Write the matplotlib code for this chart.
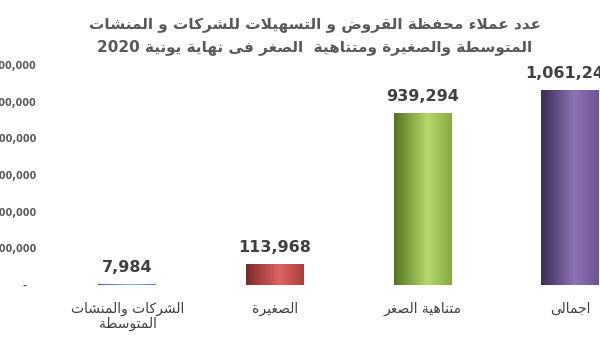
import re
import numpy as np
import matplotlib
matplotlib.use("Agg")
import matplotlib.pyplot as plt
from matplotlib.colors import LinearSegmentedColormap, to_rgb

# ---- data ----
categories = ["الشركات والمنشات\nالمتوسطة", "الصغيرة", "متناهية الصغر", "اجمالى"]
values = [7984, 113968, 939294, 1061246]
title_lines = ["عدد عملاء محفظة القروض و التسهيلات للشركات و المنشات",
               "المتوسطة والصغيرة ومتناهية  الصغر فى نهاية يونية 2020"]
y_ticks = [0, 200000, 400000, 600000, 800000, 1000000, 1200000]

# cylinder-like shading per bar: (dark edge, highlight, right edge)
bar_shades = [
    ("#3f5f86", "#8fb0da", "#5a7fae"),
    ("#7a2a28", "#e06462", "#a9403d"),
    ("#55741f", "#b7da6c", "#86a945"),
    ("#3b2c55", "#8e73b6", "#6a5590"),
]

# ---- minimal Arabic shaping (presentation forms + visual order) ----
FORMS = {
    "\u0621": ("\uFE80", None, None, None),
    "\u0627": ("\uFE8D", "\uFE8E", None, None),
    "\u0629": ("\uFE93", "\uFE94", None, None),
    "\u062A": ("\uFE95", "\uFE96", "\uFE97", "\uFE98"),
    "\u062C": ("\uFE9D", "\uFE9E", "\uFE9F", "\uFEA0"),
    "\u062D": ("\uFEA1", "\uFEA2", "\uFEA3", "\uFEA4"),
    "\u062F": ("\uFEA9", "\uFEAA", None, None),
    "\u0631": ("\uFEAD", "\uFEAE", None, None),
    "\u0633": ("\uFEB1", "\uFEB2", "\uFEB3", "\uFEB4"),
    "\u0634": ("\uFEB5", "\uFEB6", "\uFEB7", "\uFEB8"),
    "\u0635": ("\uFEB9", "\uFEBA", "\uFEBB", "\uFEBC"),
    "\u0636": ("\uFEBD", "\uFEBE", "\uFEBF", "\uFEC0"),
    "\u0637": ("\uFEC1", "\uFEC2", "\uFEC3", "\uFEC4"),
    "\u0638": ("\uFEC5", "\uFEC6", "\uFEC7", "\uFEC8"),
    "\u0639": ("\uFEC9", "\uFECA", "\uFECB", "\uFECC"),
    "\u063A": ("\uFECD", "\uFECE", "\uFECF", "\uFED0"),
    "\u0641": ("\uFED1", "\uFED2", "\uFED3", "\uFED4"),
    "\u0642": ("\uFED5", "\uFED6", "\uFED7", "\uFED8"),
    "\u0643": ("\uFED9", "\uFEDA", "\uFEDB", "\uFEDC"),
    "\u0644": ("\uFEDD", "\uFEDE", "\uFEDF", "\uFEE0"),
    "\u0645": ("\uFEE1", "\uFEE2", "\uFEE3", "\uFEE4"),
    "\u0646": ("\uFEE5", "\uFEE6", "\uFEE7", "\uFEE8"),
    "\u0647": ("\uFEE9", "\uFEEA", "\uFEEB", "\uFEEC"),
    "\u0648": ("\uFEED", "\uFEEE", None, None),
    "\u0649": ("\uFEEF", "\uFEF0", None, None),
    "\u064A": ("\uFEF1", "\uFEF2", "\uFEF3", "\uFEF4"),
}


def _joins(c):
    return c in FORMS and c != "\u0621"


def _dual(c):
    return c in FORMS and FORMS[c][2] is not None


def shape(text):
    out = []
    i = 0
    n = len(text)
    while i < n:
        c = text[i]
        prev = text[i - 1] if i > 0 else None
        join_prev = prev is not None and _dual(prev) and _joins(c)
        if c == "\u0644" and i + 1 < n and text[i + 1] == "\u0627":
            out.append("\uFEFC" if join_prev else "\uFEFB")
            i += 2
            continue
        if c not in FORMS:
            out.append(c)
            i += 1
            continue
        nxt = text[i + 1] if i + 1 < n else None
        join_next = _dual(c) and nxt is not None and _joins(nxt)
        iso, fin, ini, med = FORMS[c]
        if join_prev and join_next:
            f = med
        elif join_prev:
            f = fin
        elif join_next:
            f = ini
        else:
            f = iso
        out.append(f or iso)
        i += 1
    vis = "".join(out)[::-1]
    return re.sub(r"[0-9][0-9,]*", lambda m: m.group(0)[::-1], vis)


def shape_lines(text):
    return "\n".join(shape(t) for t in text.split("\n"))


plt.rcParams["font.family"] = ["DejaVu Sans"]

fig = plt.figure(figsize=(6.0, 3.38), dpi=100)
fig.patch.set_facecolor("white")
ax = fig.add_axes([0.075, 0.1568, 0.925, 0.651])

x = np.arange(len(categories))
bars = ax.bar(x, values, width=0.393, facecolor="none", edgecolor="none")

for b, (c0, c1, c2) in zip(bars, bar_shades):
    cmap = LinearSegmentedColormap.from_list(
        "shade", [(0.0, to_rgb(c0)), (0.58, to_rgb(c1)), (1.0, to_rgb(c2))])
    grad = np.linspace(0, 1, 128).reshape(1, -1)
    x0, y0 = b.get_x(), b.get_y()
    im = ax.imshow(grad, cmap=cmap, aspect="auto", interpolation="bicubic",
                   extent=(x0, x0 + b.get_width(), y0, y0 + b.get_height()),
                   zorder=2)
    im.set_clip_path(b)

for xi, v in zip(x, values):
    ax.annotate(f"{v:,}", (xi, v), xytext=(0, 6.5), textcoords="offset points",
                ha="center", va="bottom", fontsize=11.5, fontweight="bold",
                color="#404040", annotation_clip=False)

ax.set_xlim(-0.559, 3.203)
ax.set_ylim(0, 1200000)
ax.set_yticks(y_ticks)
ax.set_yticklabels(["-   "] + [f"{t:,}" for t in y_ticks[1:]],
                   fontsize=7, fontweight="bold", color="#595959")
ax.set_xticks(x)
ax.set_xticklabels([shape_lines(c) for c in categories], fontsize=10,
                   color="#404040", linespacing=1.05)
ax.tick_params(axis="y", length=0, pad=6)
ax.tick_params(axis="x", length=0, pad=12)
for s in ax.spines.values():
    s.set_visible(False)
ax.set_facecolor("none")

fig.text(0.525, 1 - 25 / 338, shape(title_lines[0]), ha="center", va="center",
         fontsize=11, fontweight="bold", color="#595959")
fig.text(0.525, 1 - 47 / 338, shape(title_lines[1]), ha="center", va="center",
         fontsize=11, fontweight="bold", color="#595959")

fig.savefig("out.png", dpi=100, facecolor="white")
